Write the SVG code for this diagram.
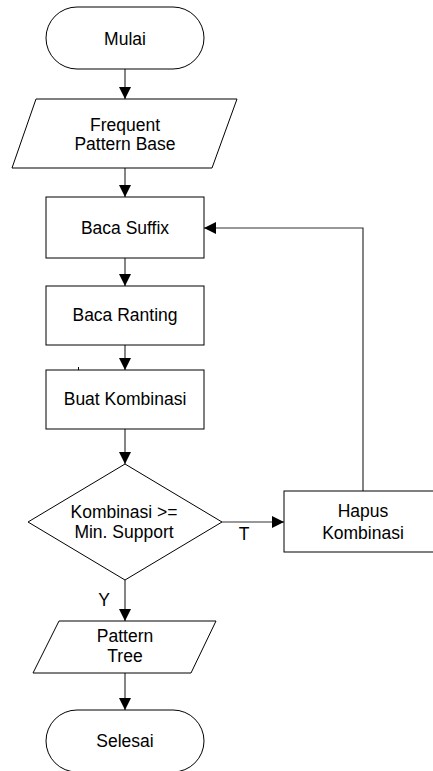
<svg xmlns="http://www.w3.org/2000/svg" width="433" height="771" viewBox="0 0 433 771">
<style>
.s{fill:#fff;stroke:#000;stroke-width:1}
.c{fill:none;stroke:#333;stroke-width:1.2}
.t{font-family:"Liberation Sans",Arial,sans-serif;font-size:17.5px;fill:#000;text-anchor:middle}
</style>
<defs>
<marker id="ah" markerUnits="userSpaceOnUse" markerWidth="12" markerHeight="12" refX="12" refY="6" orient="auto">
<path d="M0,0 L12,6 L0,12 Z" fill="#000"/>
</marker>
</defs>
<rect width="433" height="771" fill="#fff"/>
<g id="connectors">
<line class="c" x1="125" y1="69" x2="125" y2="99" marker-end="url(#ah)"/>
<line class="c" x1="125" y1="168" x2="125" y2="197" marker-end="url(#ah)"/>
<line class="c" x1="125" y1="258" x2="125" y2="286" marker-end="url(#ah)"/>
<line class="c" x1="125" y1="345" x2="125" y2="370" marker-end="url(#ah)"/>
<line class="c" x1="125" y1="429" x2="125" y2="464" marker-end="url(#ah)"/>
<line class="c" x1="222" y1="522" x2="284" y2="522" marker-end="url(#ah)"/>
<polyline class="c" points="363,491 363,228 204,228" marker-end="url(#ah)"/>
<line class="c" x1="125" y1="580" x2="125" y2="621" marker-end="url(#ah)"/>
<line class="c" x1="125" y1="673" x2="125" y2="710" marker-end="url(#ah)"/>
<text class="t" x="244" y="540">T</text>
<text class="t" x="104" y="606">Y</text>
</g>
<line x1="78.5" y1="367" x2="78.5" y2="370" stroke="#000" stroke-width="1"/>
<g id="mulai">
<rect class="s" x="46" y="7" width="158" height="62" rx="31" ry="31"/>
<text class="t" x="125" y="45">Mulai</text>
</g>
<g id="frequent">
<polygon class="s" points="36,99 237,99 212,168 12,168"/>
<text class="t" x="125" y="131">Frequent</text>
<text class="t" x="125" y="150">Pattern Base</text>
</g>
<g id="bacasuffix">
<rect class="s" x="46" y="197" width="158" height="61"/>
<text class="t" x="125" y="234">Baca Suffix</text>
</g>
<g id="bacaranting">
<rect class="s" x="46" y="286" width="158" height="59"/>
<text class="t" x="125" y="321">Baca Ranting</text>
</g>
<g id="buatkombinasi">
<rect class="s" x="46" y="370" width="158" height="59"/>
<text class="t" x="125" y="405">Buat Kombinasi</text>
</g>
<g id="decision">
<polygon class="s" points="125,464 222,522 125,580 28,522"/>
<text class="t" x="124" y="518">Kombinasi &gt;=</text>
<text class="t" x="124" y="538">Min. Support</text>
</g>
<g id="hapus">
<rect class="s" x="284" y="491" width="150" height="61"/>
<text class="t" x="363" y="517">Hapus</text>
<text class="t" x="363" y="539">Kombinasi</text>
</g>
<g id="patterntree">
<polygon class="s" points="59,621 216,621 191,673 33,673"/>
<text class="t" x="125" y="642">Pattern</text>
<text class="t" x="125" y="662">Tree</text>
</g>
<g id="selesai">
<rect class="s" x="46" y="710" width="158" height="62" rx="31" ry="31"/>
<text class="t" x="125" y="747">Selesai</text>
</g>
</svg>
